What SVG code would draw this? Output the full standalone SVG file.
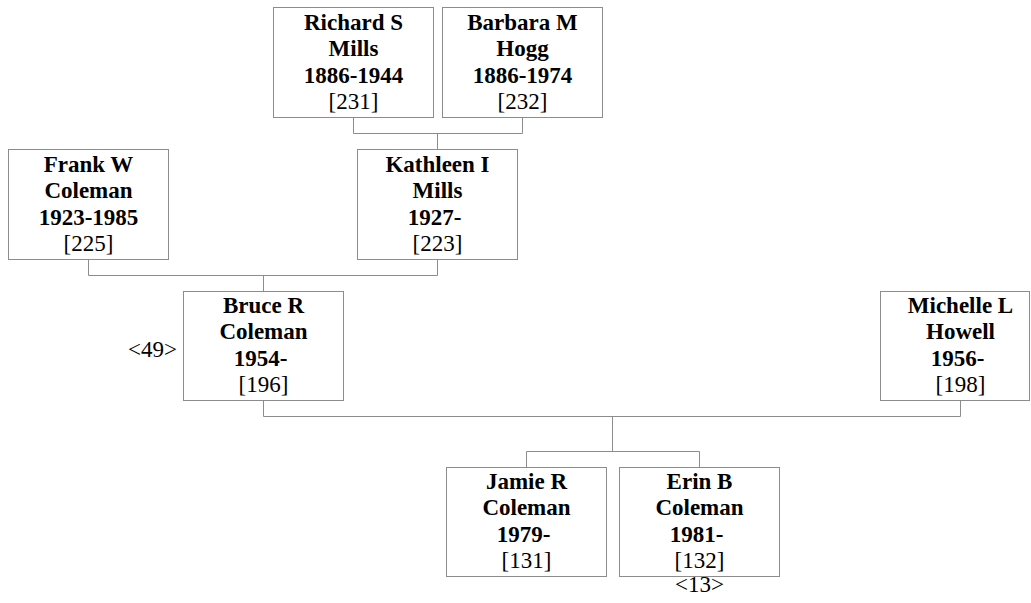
<svg xmlns="http://www.w3.org/2000/svg" width="1031" height="603" viewBox="0 0 1031 603">
<style>
rect{fill:#fff;stroke:#8c8c8c;stroke-width:1}
.c path{fill:none;stroke:#8c8c8c;stroke-width:1}
text{font-family:"Liberation Serif","Times New Roman",serif;font-size:23px;fill:#000;text-anchor:middle}
.b{font-weight:bold}
</style>
<rect x="0" y="0" width="1031" height="603" style="stroke:none"/>
<g class="c" id="connectors">
<path d="M353.5 117 V133.5 H522.5 V117"/>
<path d="M437.5 133.5 V149"/>
<path d="M88.5 259 V275.5 H437.5 V259"/>
<path d="M263.5 275.5 V291"/>
<path d="M263.5 400 V416.5 H960.5 V400"/>
<path d="M612.5 416.5 V451.5"/>
<path d="M526.5 467 V451.5 H699.5 V467"/>
</g>
<g id="n231">
<rect x="273.5" y="7.5" width="160" height="110"/>
<text x="353.5" y="29.5" class="b">Richard S</text>
<text x="353.5" y="56" class="b">Mills</text>
<text x="353.5" y="82.5" class="b">1886-1944</text>
<text x="353.5" y="109">[231]</text>
</g>
<g id="n232">
<rect x="442.5" y="7.5" width="160" height="110"/>
<text x="522.5" y="29.5" class="b">Barbara M</text>
<text x="522.5" y="56" class="b">Hogg</text>
<text x="522.5" y="82.5" class="b">1886-1974</text>
<text x="522.5" y="109">[232]</text>
</g>
<g id="n225">
<rect x="8.5" y="149.5" width="160" height="110"/>
<text x="88.5" y="171.5" class="b">Frank W</text>
<text x="88.5" y="198" class="b">Coleman</text>
<text x="88.5" y="224.5" class="b">1923-1985</text>
<text x="88.5" y="251">[225]</text>
</g>
<g id="n223">
<rect x="357.5" y="149.5" width="160" height="110"/>
<text x="437.5" y="171.5" class="b">Kathleen I</text>
<text x="437.5" y="198" class="b">Mills</text>
<text x="434.5" y="224.5" class="b">1927-</text>
<text x="437.5" y="251">[223]</text>
</g>
<g id="n196">
<rect x="183.5" y="291.5" width="160" height="109"/>
<text x="263.5" y="313" class="b">Bruce R</text>
<text x="263.5" y="339" class="b">Coleman</text>
<text x="260.5" y="365.5" class="b">1954-</text>
<text x="263.5" y="391.5">[196]</text>
<text x="177" y="357" style="text-anchor:end">&lt;49&gt;</text>
</g>
<g id="n198">
<rect x="880.5" y="291.5" width="149" height="109"/>
<text x="960.5" y="313" class="b">Michelle L</text>
<text x="960.5" y="339" class="b">Howell</text>
<text x="957.5" y="365.5" class="b">1956-</text>
<text x="960.5" y="391.5">[198]</text>
</g>
<g id="n131">
<rect x="446.5" y="467.5" width="160" height="109"/>
<text x="526.5" y="489" class="b">Jamie R</text>
<text x="526.5" y="515" class="b">Coleman</text>
<text x="523.5" y="541.5" class="b">1979-</text>
<text x="526.5" y="567.5">[131]</text>
</g>
<g id="n132">
<rect x="619.5" y="467.5" width="160" height="109"/>
<text x="699.5" y="489" class="b">Erin B</text>
<text x="699.5" y="515" class="b">Coleman</text>
<text x="696.5" y="541.5" class="b">1981-</text>
<text x="699.5" y="567.5">[132]</text>
<text x="699.5" y="592">&lt;13&gt;</text>
</g>
</svg>
